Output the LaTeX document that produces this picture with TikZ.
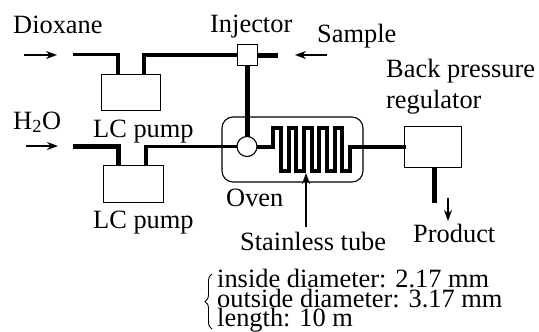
\documentclass[tikz,border=0pt]{standalone}
\usepackage{fontspec}
\setmainfont{Liberation Serif}
\usetikzlibrary{arrows.meta,decorations.pathreplacing}
\tikzset{
  lbl/.style={anchor=base west,inner sep=0pt,font=\fontsize{26.4}{26}\selectfont},
  unitbox/.style={draw,line width=1.1pt,fill=white,inner sep=0pt,anchor=north west},
  joint/.style={draw,line width=1.1pt,fill=white,circle,inner sep=0pt,minimum size=20pt},
  thick tube/.style={line width=5pt,miter limit=10},
  mid tube/.style={line width=3.8pt},
  flow/.style={line width=1.2pt,-{Stealth[length=11pt,width=8pt,inset=3.5pt]}}
}
\begin{document}
\begin{tikzpicture}[x=1pt,y=-1pt]
\useasboundingbox (0,0) rectangle (539,332);
% coordinates
\coordinate (dioxIn) at (73,54.5);
\coordinate (dioxTurn) at (118,54.5);
\coordinate (pumpAout) at (144,55);
\coordinate (waterIn) at (73,146.5);
\coordinate (waterTurn) at (118,146.5);
\coordinate (pumpBout) at (146,146.5);
\coordinate (sampleEnd) at (278,55);
\coordinate (prodEnd) at (434,203);
% units
\draw[line width=1.1pt,rounded corners=11pt] (222,117) rectangle (363,182);
\node[unitbox,minimum width=59pt,minimum height=36pt] (pumpA) at (101,74) {};
\node[unitbox,minimum width=60pt,minimum height=37pt] (pumpB) at (103,165) {};
\node[unitbox,minimum width=57pt,minimum height=41pt] (bpr) at (404,126) {};
% tubes
\draw[mid tube] (dioxIn) -- (dioxTurn) -- (118,74);
\draw[mid tube] (144,74) -- (pumpAout) -- (240,55);
\draw[thick tube] (257,55) -- (sampleEnd);
\draw[thick tube] (247,60) -- (247,140);
\draw[thick tube] (waterIn) -- (waterTurn) -- (118,165);
\draw[mid tube] (146,165) -- (pumpBout) -- (240,146.5);
\draw[line width=4pt,miter limit=10] (255,146.5) -- (273.3,146.5) -- (273.3,127.7)
  -- (281,127.7) -- (281,171) -- (288.7,171) -- (288.7,127.7) -- (296.3,127.7)
  -- (296.3,171) -- (304,171) -- (304,127.7) -- (311.7,127.7) -- (311.7,171)
  -- (319.3,171) -- (319.3,127.7) -- (327,127.7) -- (327,171) -- (334.7,171)
  -- (334.7,127.7) -- (342.3,127.7) -- (342.3,171) -- (350,171) -- (350,147)
  -- (406,147);
\draw[thick tube] (434,167) -- (prodEnd);
% valves
\node[unitbox,minimum width=20pt,minimum height=21pt] (inj) at (237,44) {};
\node[joint] (mix) at (247,146.5) {};
% flow arrows
\coordinate (a1) at (24,55); \coordinate (a2) at (57,55);
\coordinate (b1) at (26,146); \coordinate (b2) at (58,146);
\coordinate (c1) at (327,55); \coordinate (c2) at (295,55);
\coordinate (d1) at (448,198); \coordinate (d2) at (448,221);
\coordinate (e1) at (306,227); \coordinate (e2) at (306,173);
\draw[flow] (a1) -- (a2);
\draw[flow] (b1) -- (b2);
\draw[flow] (c1) -- (c2);
\draw[flow] (d1) -- (d2);
\draw[flow] (e1) -- (e2);
% labels
\node[lbl] (tDiox) at (13,33) {Dioxane};
\node[lbl] (tInj) at (210,32) {Injector};
\node[lbl] (tSam) at (317,42) {Sample};
\node[lbl] (tBack) at (386,77) {Back pressure};
\node[lbl] (tReg) at (386,108) {regulator};
\node[lbl] (tWater) at (13,129) {H\textsubscript{2}O};
\node[lbl] (tPa) at (93,137) {LC pump};
\node[lbl] (tPb) at (93,228) {LC pump};
\node[lbl] (tOven) at (226,206) {Oven};
\node[lbl] (tSt) at (240,250) {Stainless tube};
\node[lbl] (tProd) at (413,242) {Product};
\node[lbl] (s1) at (217,287) {inside diameter: 2.17 mm};
\node[lbl] (s2) at (217,307.5) {outside diameter: 3.17 mm};
\node[lbl] (s3) at (217,326) {length: 10 m};
\coordinate (brTop) at (212,274); \coordinate (brBot) at (212,329);
\draw[line width=0.9pt,decorate,decoration={brace,amplitude=7pt,mirror}] (brTop) -- (brBot);
\end{tikzpicture}
\end{document}
